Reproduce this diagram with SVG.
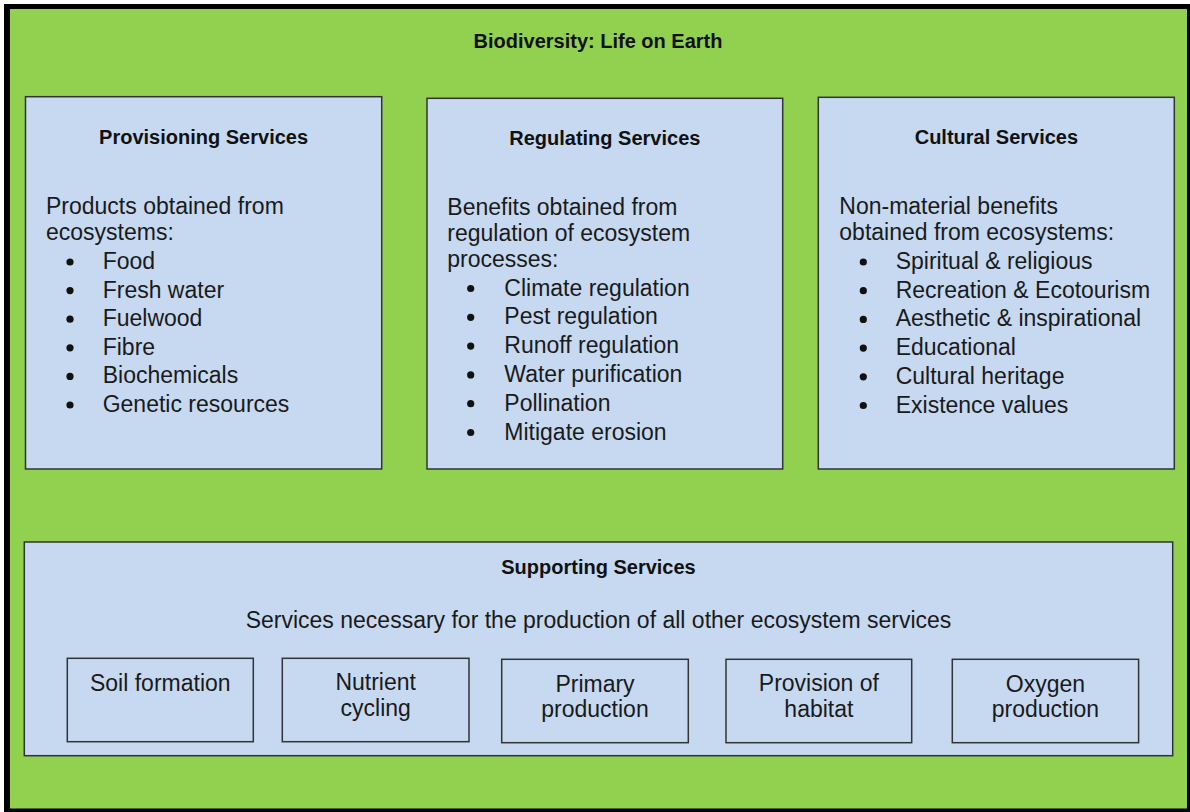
<svg xmlns="http://www.w3.org/2000/svg" width="1190" height="812" viewBox="0 0 1190 812">
  <style>
    .frame { fill: #92D050; stroke: none; }
    .box { fill: #C6D9F1; stroke: #333333; stroke-width: 1.5; }
    .title { font-family: "Liberation Sans", Arial, sans-serif; font-weight: bold; font-size: 20px; fill: #111111; text-anchor: middle; }
    .body { font-family: "Liberation Sans", Arial, sans-serif; font-size: 23px; fill: #1a1a1a; }
    .mid { text-anchor: middle; }
    .bullet { fill: #111111; }
  </style>
  <g id="background">
    <rect x="0" y="0" width="1190" height="812" fill="#ffffff"/>
    <rect x="4" y="4" width="1186" height="808" fill="#000000"/>
    <rect class="frame" x="10" y="9" width="1177" height="799.5"/>
    <text class="title" x="598" y="48">Biodiversity: Life on Earth</text>
  </g>
  <g id="provisioning">
    <rect class="box" x="25.5" y="96.7" width="356.2" height="372.3"/>
    <text class="title" x="203.6" y="144.3">Provisioning Services</text>
    <text class="body" x="46" y="214">Products obtained from</text>
    <text class="body" x="46" y="239.5">ecosystems:</text>
    <circle class="bullet" cx="70" cy="262" r="3.6"/>
    <text class="body" x="102.7" y="269">Food</text>
    <circle class="bullet" cx="70" cy="290.6" r="3.6"/>
    <text class="body" x="102.7" y="297.6">Fresh water</text>
    <circle class="bullet" cx="70" cy="319.2" r="3.6"/>
    <text class="body" x="102.7" y="326.2">Fuelwood</text>
    <circle class="bullet" cx="70" cy="347.8" r="3.6"/>
    <text class="body" x="102.7" y="354.8">Fibre</text>
    <circle class="bullet" cx="70" cy="376.4" r="3.6"/>
    <text class="body" x="102.7" y="383.4">Biochemicals</text>
    <circle class="bullet" cx="70" cy="405" r="3.6"/>
    <text class="body" x="102.7" y="412">Genetic resources</text>
  </g>
  <g id="regulating">
    <rect class="box" x="427" y="98.3" width="355.7" height="370.7"/>
    <text class="title" x="604.8" y="145">Regulating Services</text>
    <text class="body" x="447.3" y="215">Benefits obtained from</text>
    <text class="body" x="447.3" y="241">regulation of ecosystem</text>
    <text class="body" x="447.3" y="267">processes:</text>
    <circle class="bullet" cx="470.7" cy="288.5" r="3.6"/>
    <text class="body" x="504.3" y="295.5">Climate regulation</text>
    <circle class="bullet" cx="470.7" cy="317.3" r="3.6"/>
    <text class="body" x="504.3" y="324.3">Pest regulation</text>
    <circle class="bullet" cx="470.7" cy="346.1" r="3.6"/>
    <text class="body" x="504.3" y="353.1">Runoff regulation</text>
    <circle class="bullet" cx="470.7" cy="374.9" r="3.6"/>
    <text class="body" x="504.3" y="381.9">Water purification</text>
    <circle class="bullet" cx="470.7" cy="403.7" r="3.6"/>
    <text class="body" x="504.3" y="410.7">Pollination</text>
    <circle class="bullet" cx="470.7" cy="432.5" r="3.6"/>
    <text class="body" x="504.3" y="439.5">Mitigate erosion</text>
  </g>
  <g id="cultural">
    <rect class="box" x="818.3" y="97.3" width="356" height="371.7"/>
    <text class="title" x="996.4" y="144">Cultural Services</text>
    <text class="body" x="839.3" y="214">Non-material benefits</text>
    <text class="body" x="839.3" y="239.5">obtained from ecosystems:</text>
    <circle class="bullet" cx="863.3" cy="262" r="3.6"/>
    <text class="body" x="895.7" y="269">Spiritual &amp; religious</text>
    <circle class="bullet" cx="863.3" cy="290.7" r="3.6"/>
    <text class="body" x="895.7" y="297.7">Recreation &amp; Ecotourism</text>
    <circle class="bullet" cx="863.3" cy="319.4" r="3.6"/>
    <text class="body" x="895.7" y="326.4">Aesthetic &amp; inspirational</text>
    <circle class="bullet" cx="863.3" cy="348.1" r="3.6"/>
    <text class="body" x="895.7" y="355.1">Educational</text>
    <circle class="bullet" cx="863.3" cy="376.8" r="3.6"/>
    <text class="body" x="895.7" y="383.8">Cultural heritage</text>
    <circle class="bullet" cx="863.3" cy="405.5" r="3.6"/>
    <text class="body" x="895.7" y="412.5">Existence values</text>
  </g>
  <g id="supporting">
    <rect class="box" x="24.3" y="542" width="1148.4" height="213.7"/>
    <text class="title" x="598.5" y="574">Supporting Services</text>
    <text class="body mid" x="598.5" y="628">Services necessary for the production of all other ecosystem services</text>
  </g>
  <g id="soil-formation">
    <rect class="box" x="67.3" y="658.3" width="186" height="83.4"/>
    <text class="body mid" x="160.3" y="691">Soil formation</text>
  </g>
  <g id="nutrient-cycling">
    <rect class="box" x="282.3" y="658.3" width="186.7" height="83.4"/>
    <text class="body mid" x="375.7" y="690">Nutrient</text>
    <text class="body mid" x="375.7" y="716">cycling</text>
  </g>
  <g id="primary-production">
    <rect class="box" x="501.7" y="659.3" width="186.6" height="83.4"/>
    <text class="body mid" x="595" y="691.5">Primary</text>
    <text class="body mid" x="595" y="717.3">production</text>
  </g>
  <g id="provision-of-habitat">
    <rect class="box" x="726" y="659.3" width="185.7" height="83.4"/>
    <text class="body mid" x="818.9" y="691">Provision of</text>
    <text class="body mid" x="818.9" y="716.7">habitat</text>
  </g>
  <g id="oxygen-production">
    <rect class="box" x="952.3" y="659.3" width="186.3" height="83.4"/>
    <text class="body mid" x="1045.4" y="691.5">Oxygen</text>
    <text class="body mid" x="1045.4" y="717">production</text>
  </g>
  <g id="connectors"/>
</svg>
